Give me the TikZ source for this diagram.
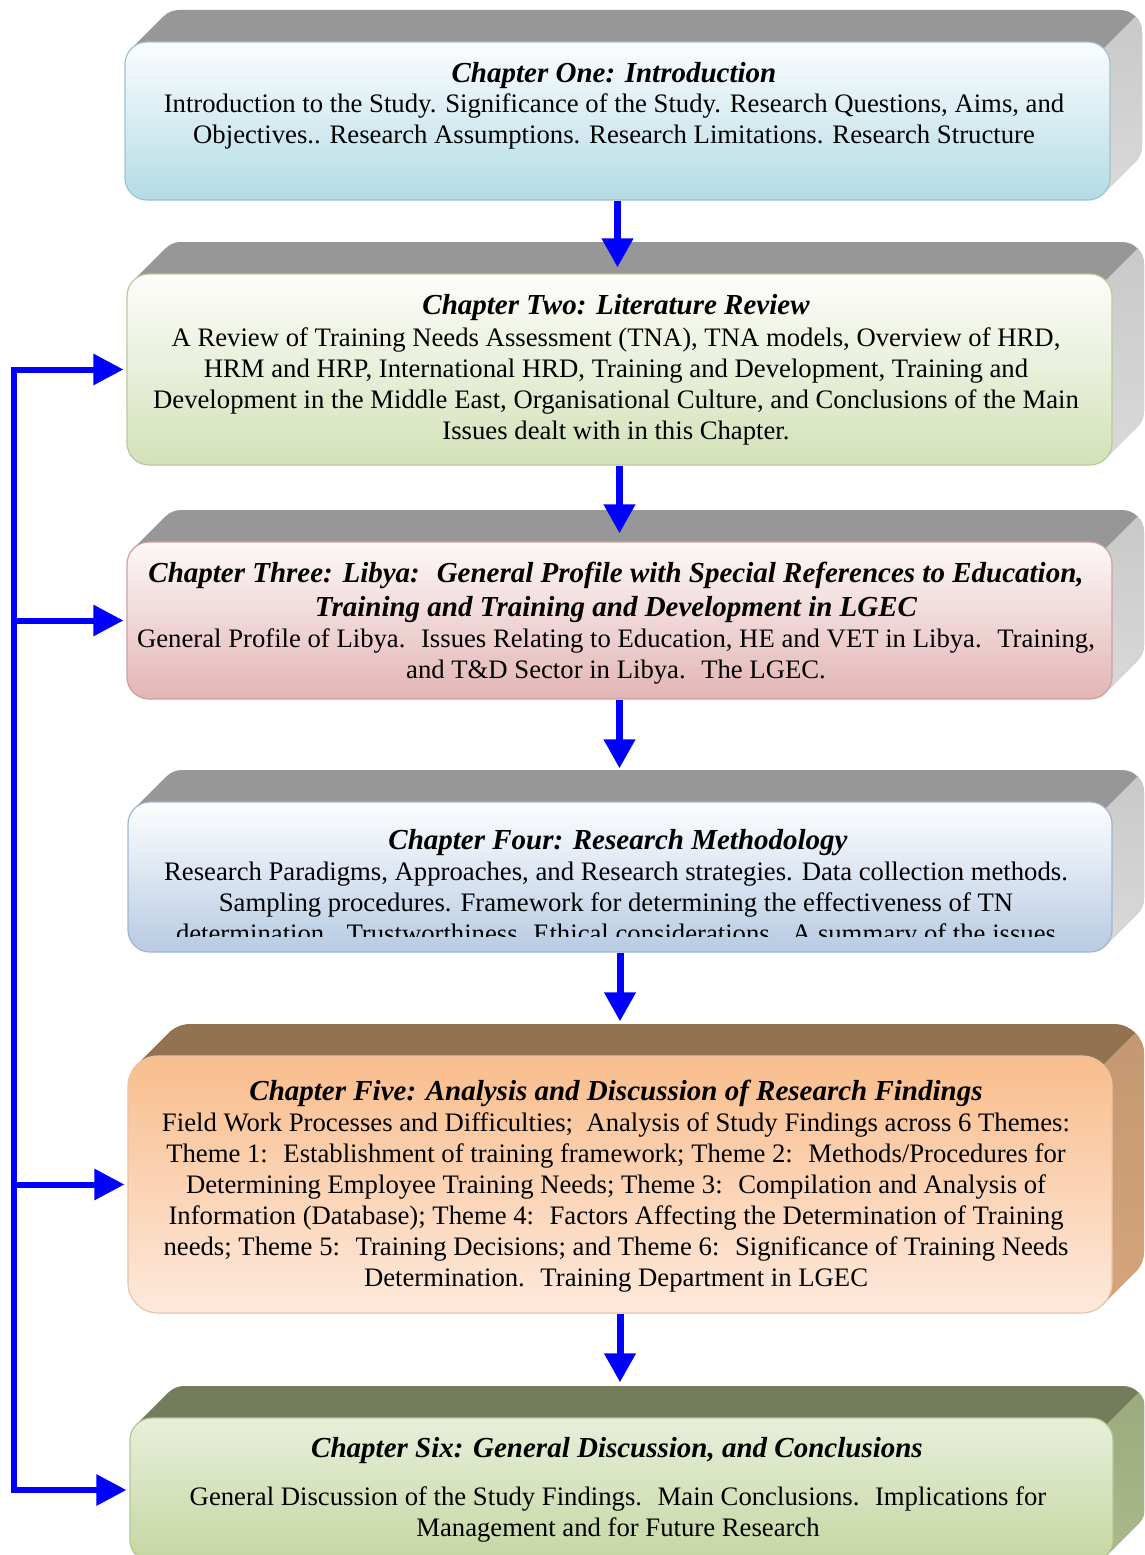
\documentclass[tikz,border=0pt]{standalone}
\usepackage{fontspec}
\setmainfont{Liberation Serif}
\usetikzlibrary{arrows.meta,calc}

% face colours
\definecolor{arrowblue}{HTML}{0000FF}
\definecolor{topgray}{HTML}{979797}
\definecolor{sidegray}{HTML}{D9D9D9}
\definecolor{topbrown}{HTML}{937251}
\definecolor{sidebrown}{HTML}{D5A47B}
\definecolor{topolive}{HTML}{737C5B}
\definecolor{sideolive}{HTML}{A9B98A}
\definecolor{fa1}{HTML}{FBFDFE}\definecolor{fb1}{HTML}{B3DBE5}\definecolor{fc1}{HTML}{9BC4CF}
\definecolor{fa2}{HTML}{FDFDFB}\definecolor{fb2}{HTML}{D3E1B8}\definecolor{fc2}{HTML}{B9C99D}
\definecolor{fa3}{HTML}{FDF8F8}\definecolor{fb3}{HTML}{E3B5B5}\definecolor{fc3}{HTML}{CFA0A0}
\definecolor{fa4}{HTML}{FDFEFF}\definecolor{fb4}{HTML}{B7CBE3}\definecolor{fc4}{HTML}{9FB5CF}
\definecolor{fa5}{HTML}{F9BD8C}\definecolor{fb5}{HTML}{FDE9DC}\definecolor{fc5}{HTML}{E8C4A8}
\definecolor{fa6}{HTML}{E7EFDA}\definecolor{fb6}{HTML}{C5D6A1}\definecolor{fc6}{HTML}{B5C594}

\def\dd{32}% depth of the extruded block

% #1 name, #2 left, #3 top, #4 right, #5 bottom, #6 corner radius,
% #7 top-face colour, #8 side-face colour, #9 front-face style
\newcommand\chapterblock[9]{%
  \pgfmathsetmacro\tg{0.2929*#6}%
  \pgfmathsetmacro\bw{#4-#2}%
  \pgfmathsetmacro\bh{#5-#3}%
  \def\hull{(#2+\tg,#3+\tg) -- ++(\dd,-\dd)
    arc[start angle=135,end angle=90,radius=#6pt] -- (#4+\dd-#6,#3-\dd)
    arc[start angle=90,end angle=0,radius=#6pt] -- (#4+\dd,#5-\dd-#6)
    arc[start angle=0,end angle=-45,radius=#6pt] -- (#4-\tg,#5-\tg) -- cycle}%
  \fill[#7] \hull;
  \begin{scope}
    \clip (#4-\tg,#3+\tg) -- ++(300,-300) -- ++(300,0) -- ++(0,1200) -- ++(-600,0) -- cycle;
    \shade[top color=#8!75!#7, bottom color=#8] \hull;
  \end{scope}
  \node[#9, rounded corners=#6pt, minimum width=\bw pt, minimum height=\bh pt]
    (#1) at ({(#2+#4)/2},{(#3+#5)/2}) {};
}

\begin{document}
\begin{tikzpicture}[x=1pt,y=-1pt,
  face/.style={inner sep=0pt, line width=1.2pt},
  front1/.style={face, top color=fa1, bottom color=fb1, draw=fc1},
  front2/.style={face, top color=fa2, bottom color=fb2, draw=fc2},
  front3/.style={face, top color=fa3, bottom color=fb3, draw=fc3},
  front4/.style={face, top color=fa4, bottom color=fb4, draw=fc4},
  front5/.style={face, top color=fa5, bottom color=fb5, draw=fc5},
  front6/.style={face, top color=fa6, bottom color=fb6, draw=fc6},
  % multi-line nodes sit on the baseline of their last line
  ttl/.style={font=\fontsize{29}{34}\selectfont\bfseries\itshape, align=center, anchor=base, inner sep=0pt},
  bdy/.style={font=\fontsize{26.7}{31}\selectfont, align=center, anchor=base, inner sep=0pt},
  arr/.style={draw=arrowblue, line width=7pt, -{Triangle[length=29pt,width=30pt]}},
  harr/.style={draw=arrowblue, line width=6pt, -{Triangle[length=30pt,width=30pt]}},
  spine/.style={draw=arrowblue, line width=6pt, line cap=rect}]

\useasboundingbox (0,0) rectangle (1144,1555);
\clip (0,0) rectangle (1144,1555);
\fill[white] (0,0) rectangle (1144,1555);

% chapter blocks
\chapterblock{b1}{125}{42}{1110}{200}{22}{topgray}{sidegray}{front1}
\chapterblock{b2}{127}{274}{1112}{465}{22}{topgray}{sidegray}{front2}
\chapterblock{b3}{127}{542}{1112}{699}{22}{topgray}{sidegray}{front3}
\chapterblock{b4}{128}{802}{1112}{952}{22}{topgray}{sidegray}{front4}
\chapterblock{b5}{128}{1056}{1112}{1313}{30}{topbrown}{sidebrown}{front5}
\chapterblock{b6}{130}{1418}{1113}{1562}{22}{topolive}{sideolive}{front6}

% texts
\node[ttl] (t1) at (614,82) {Chapter One: Introduction};
\node[bdy] (d1) at (614,143) {Introduction to the Study. Significance of the Study. Research Questions, Aims, and\\
Objectives.. Research Assumptions. Research Limitations. Research Structure};

\node[ttl] (t2) at (616,314) {Chapter Two: Literature Review};
\node[bdy] (d2) at (616,439) {A Review of Training Needs Assessment (TNA), TNA models, Overview of HRD,\\
HRM and HRP, International HRD, Training and Development, Training and\\
Development in the Middle East, Organisational Culture, and Conclusions of the Main\\
Issues dealt with in this Chapter.};

\node[ttl] (t3) at (616,616)
{Chapter Three: Libya:~ General Profile with Special References to Education,\\
Training and Training and Development in LGEC};
\node[bdy] (d3) at (616,678) {General Profile of Libya.~ Issues Relating to Education, HE and VET in Libya.~ Training,\\
and T\&D Sector in Libya.~ The LGEC.};

\node[ttl] (t4) at (618,849) {Chapter Four: Research Methodology};
% the text frame of this block cuts its last line
\begin{scope}
  \clip (100,780) rectangle (1120,936);
  \node[bdy] (d4) at (616,942) {Research Paradigms, Approaches, and Research strategies. Data collection methods.\\
  Sampling procedures. Framework for determining the effectiveness of TN\\
  determination.~ Trustworthiness. Ethical considerations.~ A summary of the issues};
\end{scope}

\node[ttl] (t5) at (616,1100) {Chapter Five: Analysis and Discussion of Research Findings};
\node[bdy] (d5) at (616,1286) {Field Work Processes and Difficulties;~ Analysis of Study Findings across 6 Themes:\\
Theme 1:~ Establishment of training framework; Theme 2:~ Methods/Procedures for\\
Determining Employee Training Needs; Theme 3:~ Compilation and Analysis of\\
Information (Database); Theme 4:~ Factors Affecting the Determination of Training\\
needs; Theme 5:~ Training Decisions; and Theme 6:~ Significance of Training Needs\\
Determination.~ Training Department in LGEC};

\node[ttl] (t6) at (617,1457) {Chapter Six: General Discussion, and Conclusions};
\node[bdy] (d6) at (618,1536) {General Discussion of the Study Findings.~ Main Conclusions.~ Implications for\\
Management and for Future Research};

% downward flow between chapters
\draw[arr, shorten >=6pt]  (b1.south) -- (b1.south |- b2.north);
\draw[arr, shorten >=8pt]  (b2.south) -- (b2.south |- b3.north);
\draw[arr, shorten >=33pt] (b3.south) -- (b3.south |- b4.north);
\draw[arr, shorten >=34pt] (b4.south) -- (b4.south |- b5.north);
\draw[arr, shorten >=35pt] (b5.south) -- (b5.south |- b6.north);

% feedback spine on the left
\coordinate (sp) at (14,0);
\coordinate (s2) at (b2.west -| sp);
\coordinate (s3) at (b3.west -| sp);
\coordinate (s5) at (b5.west -| sp);
\coordinate (s6) at (b6.west -| sp);
\draw[spine] (s2) -- (s6);
\draw[harr, shorten >=3pt] (s2) -- (b2.west);
\draw[harr, shorten >=3pt] (s3) -- (b3.west);
\draw[harr, shorten >=3pt] (s5) -- (b5.west);
\draw[harr, shorten >=3pt] (s6) -- (b6.west);
\end{tikzpicture}
\end{document}
